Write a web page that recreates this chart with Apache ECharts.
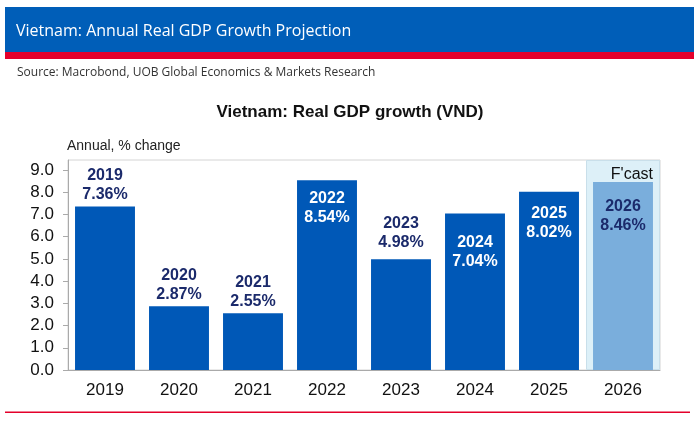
<!DOCTYPE html>
<html>
<head>
<meta charset="utf-8">
<script src="https://cdn.jsdelivr.net/npm/echarts@6/dist/echarts.min.js"></script>
<style>
	html, body { margin: 0; padding: 0; background: #fff; }
	#main { width: 700px; height: 427px; }
</style>
</head>
<body>
<div id="main"></div>
<script>
/**
 * 数据
 */
var years = [ "2019", "2020", "2021", "2022", "2023", "2024", "2025", "2026" ];
var growth = [ 7.36, 2.87, 2.55, 8.54, 4.98, 7.04, 8.02, 8.46 ];
var isForecast = [ false, false, false, false, false, false, false, true ];
var yTicks = [ 0, 1, 2, 3, 4, 5, 6, 7, 8, 9 ];
// 标签放在柱内还是柱上
var labelInside = [ false, false, false, true, false, true, true, true ];
var labelGap = [ 2, 2, 2, 9, 7, 20, 12, 15 ];

var yMax = 9.45;
var barBlue = '#0058b7';
var fcastBlue = '#7aaedc';
var navy = '#1b2a6b';

/**
 * 绘制条形图
 */
function plotChart() {
	var myChart = echarts.init(document.getElementById('main'));

	var barData = growth.map(function(v, i) {
		return {
			value : v,
			itemStyle : {
				color : isForecast[i] ? fcastBlue : barBlue
			},
			label : {
				position : labelInside[i] ? 'insideTop' : 'top',
				distance : labelGap[i],
				color : (labelInside[i] && !isForecast[i]) ? '#fff' : navy
			}
		};
	});
	// 预测区域底色
	var shadeData = isForecast.map(function(f) {
		return f ? yMax : null;
	});

	var option = {
		animation : false,
		textStyle : {
			fontFamily : 'Liberation Sans, Arial, sans-serif'
		},
		graphic : [ {
			type : 'rect',
			shape : { x : 5, y : 7, width : 689, height : 46 },
			style : { fill : '#005eb8' }
		}, {
			type : 'rect',
			shape : { x : 5, y : 52, width : 689, height : 7 },
			style : { fill : '#e4002b' }
		}, {
			type : 'text',
			left : 16, top : 23,
			style : {
				text : 'Vietnam: Annual Real GDP Growth Projection',
				fill : '#fff',
				font : '16px "Open Sans", sans-serif'
			}
		}, {
			type : 'text',
			left : 17, top : 67,
			style : {
				text : 'Source: Macrobond, UOB Global Economics & Markets Research',
				fill : '#333',
				font : '12px "Open Sans", sans-serif'
			}
		}, {
			type : 'text',
			left : 'center', top : 104,
			style : {
				text : 'Vietnam: Real GDP growth (VND)',
				fill : '#111',
				font : 'bold 17px "Liberation Sans", Arial, sans-serif'
			}
		}, {
			type : 'text',
			left : 67, top : 139,
			style : {
				text : 'Annual, % change',
				fill : '#222',
				font : '14px "Liberation Sans", Arial, sans-serif'
			}
		}, {
			type : 'rect',
			shape : { x : 5, y : 411.5, width : 685, height : 1.5 },
			style : { fill : '#e4002b' }
		} ],
		grid : {
			left : 68,
			right : 40,
			top : 160,
			bottom : 57,
			show : true,
			borderColor : '#d4d4d4',
			borderWidth : 1
		},
		xAxis : [ {
			type : 'category',
			data : years,
			axisLine : { lineStyle : { color : '#aaa' } },
			axisTick : { length : 7, lineStyle : { color : '#aaa' } },
			axisLabel : { color : '#111', fontSize : 17, margin : 12 }
		}, {
			type : 'category',
			data : years,
			show : false
		} ],
		yAxis : [ {
			type : 'value',
			min : yTicks[0],
			max : yMax,
			interval : 1,
			splitLine : { show : false },
			axisLine : { show : true, lineStyle : { color : '#aaa' } },
			axisTick : { show : true, length : 5, lineStyle : { color : '#aaa' } },
			axisLabel : {
				color : '#111',
				fontSize : 17,
				margin : 14,
				showMaxLabel : false,
				formatter : function(v) {
					return yTicks.indexOf(v) >= 0 ? v.toFixed(1) : '';
				}
			}
		}, {
			type : 'value',
			min : 0,
			max : yMax,
			show : false
		} ],
		series : [ {
			name : 'shade',
			type : 'bar',
			xAxisIndex : 1,
			yAxisIndex : 1,
			barWidth : '100%',
			z : 1,
			data : shadeData,
			itemStyle : {
				color : '#ddf0f8',
				borderColor : '#c9dfea',
				borderWidth : 1
			},
			label : {
				show : true,
				position : 'insideTopRight',
				distance : 7,
				formatter : "F'cast",
				color : '#111',
				fontSize : 16
			},
			silent : true
		}, {
			name : 'growth',
			type : 'bar',
			barCategoryGap : '19%',
			z : 3,
			data : barData,
			label : {
				show : true,
				fontWeight : 'bold',
				fontSize : 16,
				lineHeight : 19,
				formatter : function(p) {
					return p.name + '\n' + p.value.toFixed(2) + '%';
				}
			}
		} ]
	};
	myChart.setOption(option);
}

plotChart();
</script>
</body>
</html>
